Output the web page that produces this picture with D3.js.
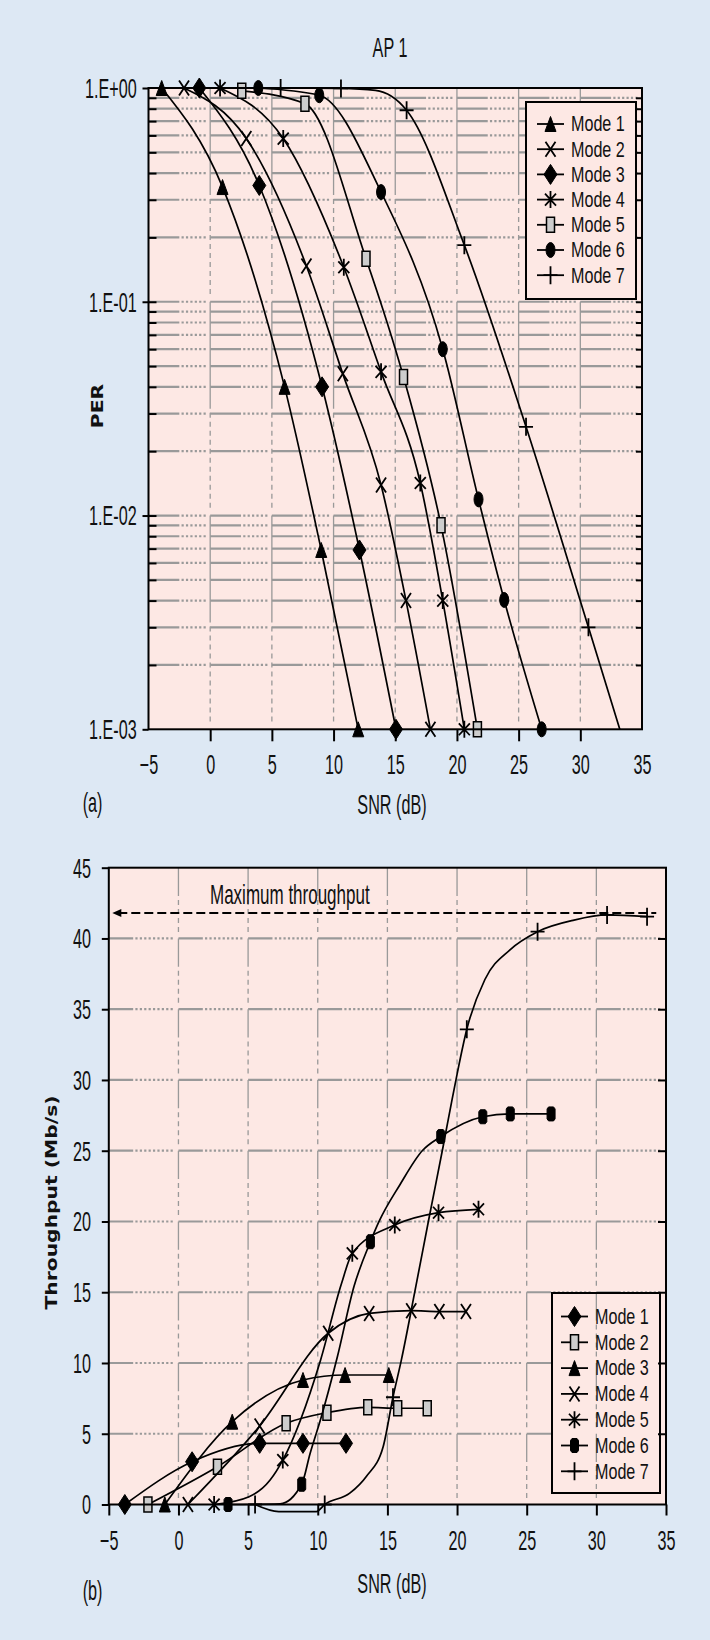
<!DOCTYPE html>
<html>
<head>
<meta charset="utf-8">
<script src="https://cdn.jsdelivr.net/npm/d3@7"></script>
<style>
  html, body { margin: 0; padding: 0; background: #dde8f4; }
  svg { display: block; }
</style>
</head>
<body>
<svg id="fig" width="710" height="1640"></svg>
<script>
// ---------------- data ----------------
const modes = ["Mode 1", "Mode 2", "Mode 3", "Mode 4", "Mode 5", "Mode 6", "Mode 7"];
const snrTicks = [-5, 0, 5, 10, 15, 20, 25, 30, 35];
const perTickValues = [1, 0.1, 0.01, 0.001];
const perTickLabels = ["1.E+00", "1.E-01", "1.E-02", "1.E-03"];
const tputTicks = [0, 5, 10, 15, 20, 25, 30, 35, 40, 45];
const maxThroughput = 41.8;

// (a) packet error rate per mode: [SNR dB, PER, marker drawn (1) / curve only (0)]
const perMode1 = [[-3.93, 1, 1], [1.0, 0.344, 1], [6.03, 0.040, 1], [9.0, 0.0069, 1], [12.0, 0.001, 1]];
const perMode2 = [[-2.12, 1, 1], [2.93, 0.58, 1], [7.8, 0.147, 1], [10.75, 0.046, 1], [13.85, 0.0139, 1], [15.87, 0.004, 1], [17.85, 0.001, 1]];
const perMode3 = [[-0.88, 1, 1], [3.98, 0.35, 1], [9.07, 0.040, 1], [12.1, 0.0069, 1], [15.06, 0.001, 1]];
const perMode4 = [[0.8, 1, 1], [5.92, 0.58, 1], [10.83, 0.145, 1], [13.85, 0.047, 1], [17.03, 0.0142, 1], [18.85, 0.004, 1], [20.6, 0.001, 1]];
const perMode5 = [[2.56, 0.97, 1], [7.68, 0.845, 1], [12.63, 0.159, 1], [15.67, 0.0445, 1], [18.71, 0.009, 1], [21.66, 0.001, 1]];
const perMode6 = [[3.9, 1, 1], [8.84, 0.925, 1], [13.85, 0.326, 1], [18.85, 0.060, 1], [21.75, 0.0119, 1], [23.83, 0.00403, 1], [26.87, 0.001, 1]];
const perMode7 = [[5.71, 1, 1], [10.6, 0.995, 1], [13.4, 0.975, 0], [15.92, 0.787, 1], [20.6, 0.184, 1], [25.6, 0.026, 1], [30.66, 0.003, 1], [33.2, 0.001, 0]];

// (b) throughput per mode: [SNR dB, Mb/s, marker drawn (1) / curve only (0)]
const tputMode1 = [[-3.85, 0, 1], [0.98, 3.02, 1], [5.83, 4.32, 1], [8.94, 4.32, 1], [12.03, 4.32, 1]];
const tputMode2 = [[-2.19, 0, 1], [2.8, 2.67, 1], [7.73, 5.74, 1], [10.66, 6.49, 1], [13.59, 6.87, 1], [15.74, 6.8, 1], [17.86, 6.8, 1]];
const tputMode3 = [[-0.98, 0, 1], [3.86, 5.85, 1], [8.94, 8.8, 1], [11.96, 9.15, 1], [15.1, 9.15, 1]];
const tputMode4 = [[0.68, 0, 1], [5.83, 5.55, 1], [10.75, 12.1, 1], [13.69, 13.5, 1], [16.71, 13.7, 1], [18.73, 13.63, 1], [20.64, 13.63, 1]];
const tputMode5 = [[2.56, 0, 1], [5.07, 0.55, 0], [6.58, 1.73, 0], [7.49, 3.14, 1], [10.2, 10.2, 0], [11.7, 15.6, 0], [12.48, 17.75, 1], [15.53, 19.75, 1], [18.67, 20.62, 1], [21.54, 20.86, 1]];
const tputMode6 = [[3.56, 0, 1], [7.3, 0.05, 0], [8.85, 1.43, 1], [9.45, 3.6, 0], [10.2, 6.0, 0], [11.4, 10.4, 0], [12.6, 15.4, 0], [13.78, 18.57, 1], [14.4, 20.0, 0], [15.9, 22.6, 0], [17.5, 25.0, 0], [18.83, 26.0, 1], [21.85, 27.4, 1], [23.82, 27.6, 1], [26.75, 27.6, 1]];
const tputMode7 = [[5.5, 0, 1], [7.2, -0.5, 0], [9.9, -0.5, 0], [10.5, 0, 1], [12.3, 0.8, 0], [13.5, 2.0, 0], [14.7, 4.1, 0], [15.4, 7.58, 1], [16.0, 10.2, 0], [17.0, 15.2, 0], [18.0, 20.3, 0], [19.0, 25.3, 0], [19.6, 28.4, 0], [20.0, 30.4, 0], [20.7, 33.58, 1], [22.0, 37.1, 0], [23.8, 39.2, 0], [25.78, 40.48, 1], [28.4, 41.3, 0], [30.77, 41.66, 1], [33.64, 41.54, 1]];

const perCurves = [perMode1, perMode2, perMode3, perMode4, perMode5, perMode6, perMode7];
const tputCurves = [tputMode1, tputMode2, tputMode3, tputMode4, tputMode5, tputMode6, tputMode7];

// ---------------- styling ----------------
const FONT = "'Liberation Sans', Arial, sans-serif";
const LABEL_FONT = "'DejaVu Sans', Verdana, sans-serif";
const BG = "#dde8f4", PLOT = "#fde8e4", GRID = "#999999", INK = "#111";
const FS = 27;     // text size
const SX = 0.6;    // horizontal squeeze applied to text
const LEGEND_FS = 21.5, LEGEND_SX = 0.75;

const perSymbols = ["triangle", "x", "diamond", "asterisk", "square", "circle", "plus"];
const tputSymbols = ["diamond", "square", "triangle", "x", "asterisk", "block", "plus"];
const symbolSize = {
  triangle: [11, 15], x: [10, 15], diamond: [13, 20], asterisk: [11, 17],
  square: [8, 15], circle: [9, 15], plus: [14, 18], block: [8, 14]
};

const svg = d3.select("#fig");
svg.append("rect").attr("width", 710).attr("height", 1640).attr("fill", BG);

function symbolPath(type) {
  const [w, h] = symbolSize[type];
  const a = w / 2, b = h / 2;
  switch (type) {
    case "triangle": return `M0,${-b}L${a},${b}L${-a},${b}Z`;
    case "diamond": return `M0,${-b}L${a},0L0,${b}L${-a},0Z`;
    case "square": return `M${-a},${-b}H${a}V${b}H${-a}Z`;
    case "block": return `M${-a + 1.5},${-b}H${a - 1.5}L${a},${-b + 2}V${b - 2}L${a - 1.5},${b}H${-a + 1.5}L${-a},${b - 2}V${-b + 2}Z`;
    case "circle": return `M${-a},0A${a},${b} 0 1,0 ${a},0A${a},${b} 0 1,0 ${-a},0Z`;
    case "x": return `M${-a},${-b}L${a},${b}M${-a},${b}L${a},${-b}`;
    case "asterisk": return `M${-a},${-b * 0.7}L${a},${b * 0.7}M${-a},${b * 0.7}L${a},${-b * 0.7}M0,${-b}V${b}`;
    case "plus": return `M${-a},0H${a}M0,${-b}V${b}`;
  }
}
function styleSymbol(sel, type) {
  if (["triangle", "diamond", "circle", "block"].includes(type)) {
    sel.attr("fill", "#000").attr("stroke", "#000").attr("stroke-width", 1);
  } else if (type === "square") {
    sel.attr("fill", "#cdcdcd").attr("stroke", "#000").attr("stroke-width", 1.5);
  } else {
    sel.attr("fill", "none").attr("stroke", "#000").attr("stroke-width", 1.8);
  }
}

function addText(g, str, x, y, opt = {}) {
  const sx = opt.sx || SX;
  return g.append("text").text(str)
    .attr("transform", `translate(${x},${y})` + (opt.rotate ? ` rotate(${opt.rotate})` : "") + ` scale(${sx},1)`)
    .attr("text-anchor", opt.anchor || "middle")
    .attr("dominant-baseline", "central")
    .attr("font-family", opt.family || FONT)
    .attr("font-size", opt.size || FS)
    .attr("font-weight", opt.weight || "normal")
    .attr("fill", INK);
}

// dash pattern: a solid run followed by short dashes for the rest of one period
function periodDash(period, solidFrac, on, off) {
  const solid = period * solidFrac;
  let rest = period - solid;
  const arr = [solid];
  while (rest >= on + 2 * off) { arr.push(off, on); rest -= off + on; }
  arr.push(rest);
  return arr.map(v => v.toFixed(2)).join(",");
}

function drawPanel(p) {
  const g = svg.append("g");
  const [x0, x1] = p.x.range();
  const top = Math.min(...p.y.range()), bottom = Math.max(...p.y.range());

  g.append("rect").attr("x", x0).attr("y", top).attr("width", x1 - x0).attr("height", bottom - top).attr("fill", PLOT);

  // horizontal grid
  g.append("g").selectAll("line").data(p.hGrid).join("line")
    .attr("x1", x0).attr("x2", x1).attr("y1", d => p.y(d)).attr("y2", d => p.y(d))
    .attr("stroke", GRID).attr("stroke-width", 2.2)
    .attr("stroke-dasharray", periodDash(p.x(0) - p.x(-5), p.hSolid, 2.2, 2.2));

  const L = p.legend;
  const legendFill = () => g.append("rect").attr("x", L.x).attr("y", L.y).attr("width", L.w).attr("height", L.h).attr("fill", PLOT);
  if (!p.legendOverV) legendFill();

  // vertical grid
  g.append("g").selectAll("line").data(p.vGrid).join("line")
    .attr("x1", d => p.x(d)).attr("x2", d => p.x(d)).attr("y1", top).attr("y2", bottom)
    .attr("stroke", GRID).attr("stroke-width", 1.3)
    .attr("stroke-dasharray", periodDash(p.vPeriod, p.vSolid, 5, 4));

  if (p.legendOverV) legendFill();

  if (p.extra) p.extra(g);

  // curves and markers
  const line = d3.line().x(d => p.x(d[0])).y(d => p.y(d[1])).curve(d3.curveMonotoneX);
  p.curves.forEach((pts, i) => {
    g.append("path").datum(pts).attr("d", line)
      .attr("fill", "none").attr("stroke", "#000").attr("stroke-width", 1.7);
    g.append("g").selectAll("path").data(pts.filter(d => d[2])).join("path")
      .attr("transform", d => `translate(${p.x(d[0])},${p.y(d[1])})`)
      .attr("d", symbolPath(p.symbols[i]))
      .call(styleSymbol, p.symbols[i]);
  });

  // frame
  g.append("rect").attr("x", x0).attr("y", top).attr("width", x1 - x0).attr("height", bottom - top)
    .attr("fill", "none").attr("stroke", "#000").attr("stroke-width", 2);

  // bottom axis
  const ax = g.append("g").attr("transform", `translate(0,${bottom})`)
    .call(d3.axisBottom(p.x).tickValues(snrTicks).tickSize(p.xTickSize).tickSizeOuter(0).tickFormat(d3.format("d")));
  ax.select(".domain").remove();
  ax.selectAll(".tick line").attr("stroke", "#000").attr("stroke-width", 2)
    .filter(d => p.xTickSkip.includes(d)).remove();
  ax.selectAll(".tick text").attr("y", 26).attr("dy", "0.71em")
    .attr("transform", `scale(${SX},1)`).attr("font-family", FONT).attr("font-size", FS).attr("fill", INK);

  // left axis
  const ay = g.append("g").attr("transform", `translate(${x0},0)`)
    .call(d3.axisLeft(p.y).tickValues(p.yTicks).tickFormat(p.yFormat).tickSize(p.yTickSize).tickSizeOuter(0));
  ay.select(".domain").remove();
  ay.selectAll(".tick line").attr("stroke", "#000").attr("stroke-width", 2);
  ay.selectAll(".tick text").attr("x", -p.yLabelGap / SX).attr("dy", "0.35em")
    .attr("transform", `scale(${SX},1)`).attr("font-family", FONT).attr("font-size", FS).attr("fill", INK);

  // inner ticks on the left and right edges
  if (p.leftInner) {
    const li = g.append("g").attr("transform", `translate(${x0},0)`)
      .call(d3.axisRight(p.y).tickValues(p.leftInner).tickSize(8).tickFormat(""));
    li.select(".domain").remove();
    li.selectAll(".tick line").attr("stroke", "#000").attr("stroke-width", 2);
  }
  const ri = g.append("g").attr("transform", `translate(${x1},0)`)
    .call(d3.axisLeft(p.y).tickValues(p.rightInner).tickSize(p.rightTickLen).tickFormat(""));
  ri.select(".domain").remove();
  ri.selectAll(".tick line").attr("stroke", "#000").attr("stroke-width", 2);

  // legend
  g.append("rect").attr("x", L.x).attr("y", L.y).attr("width", L.w).attr("height", L.h)
    .attr("fill", "none").attr("stroke", "#000").attr("stroke-width", 2);
  modes.forEach((m, i) => {
    const ly = L.y0 + i * L.dy;
    g.append("line").attr("x1", L.lx0).attr("x2", L.lx1).attr("y1", ly).attr("y2", ly)
      .attr("stroke", "#000").attr("stroke-width", 1.8);
    g.append("path").attr("transform", `translate(${(L.lx0 + L.lx1) / 2},${ly})`)
      .attr("d", symbolPath(p.symbols[i])).call(styleSymbol, p.symbols[i]);
    addText(g, m, L.tx, ly, { anchor: "start", size: LEGEND_FS, sx: LEGEND_SX });
  });
  return g;
}

// ---------------- panel (a): PER ----------------
const xTop = d3.scaleLinear().domain([-5, 35]).range([148.5, 642]);
const yTop = d3.scaleLog().domain([1, 0.001]).range([88, 729.3]);
const perMinor = [];
[1, 0.1, 0.01].forEach(dec => { for (let k = 2; k <= 9; k++) perMinor.push(+(dec * k / 10).toPrecision(3)); });
const perGrid = perMinor.concat([0.1, 0.01]);

const ga = drawPanel({
  x: xTop, y: yTop,
  hGrid: perGrid, hSolid: 0.5,
  vGrid: [0, 5, 10, 15, 20, 25, 30], vPeriod: yTop(0.1) - yTop(1), vSolid: 0.5,
  curves: perCurves, symbols: perSymbols,
  xTickSize: 12, xTickSkip: [-5, 35],
  yTicks: perTickValues, yFormat: (d, i) => perTickLabels[i], yTickSize: 6, yLabelGap: 11.8,
  leftInner: perGrid, rightInner: perGrid, rightTickLen: 6,
  legendOverV: true,
  legend: { x: 526, y: 102, w: 110, h: 197, y0: 124, dy: 25.2, lx0: 537, lx1: 564, tx: 571 }
});
addText(ga, "AP 1", 390, 47.5);
addText(ga, "PER", 97, 406, { rotate: -90, sx: 1.27, family: LABEL_FONT, weight: "bold", size: 16 });
addText(ga, "SNR (dB)", 392, 805);
addText(ga, "(a)", 82.7, 803, { anchor: "start" });

// ---------------- panel (b): throughput ----------------
const xBot = d3.scaleLinear().domain([-5, 35]).range([108.8, 666]);
const yBot = d3.scaleLinear().domain([0, 45]).range([1504.5, 867.7]);

const gb = drawPanel({
  x: xBot, y: yBot,
  hGrid: [5, 10, 15, 20, 25, 30, 35, 40], hSolid: 0.35,
  vGrid: [0, 5, 10, 15, 20, 25, 30], vPeriod: yBot(40) - yBot(45), vSolid: 0.4,
  curves: tputCurves, symbols: tputSymbols,
  xTickSize: 11, xTickSkip: [],
  yTicks: tputTicks, yFormat: d3.format("d"), yTickSize: 7, yLabelGap: 17.8,
  leftInner: null, rightInner: tputTicks.slice(1, -1), rightTickLen: 8,
  legendOverV: false,
  legend: { x: 552, y: 1293, w: 108, h: 200, y0: 1316.5, dy: 25.8, lx0: 561, lx1: 588, tx: 595 },
  extra: g => {
    // maximum throughput marker line with arrow head at the left
    const ym = yBot(maxThroughput), tip = xBot(-4.75);
    g.append("line").attr("x1", tip + 6).attr("x2", xBot(34.3)).attr("y1", ym).attr("y2", ym)
      .attr("stroke", "#000").attr("stroke-width", 2).attr("stroke-dasharray", "9,4");
    g.append("path").attr("d", `M${tip},${ym}L${tip + 9},${ym - 4}L${tip + 9},${ym + 4}Z`).attr("fill", "#000");
  }
});
addText(gb, "Maximum throughput", 210, 895, { anchor: "start", sx: 0.63 });
addText(gb, "Throughput (Mb/s)", 51.7, 1202.5, { rotate: -90, sx: 1.27, family: LABEL_FONT, weight: "bold", size: 16 });
addText(gb, "SNR (dB)", 392, 1584);
addText(gb, "(b)", 82.7, 1591, { anchor: "start" });
</script>
</body>
</html>
